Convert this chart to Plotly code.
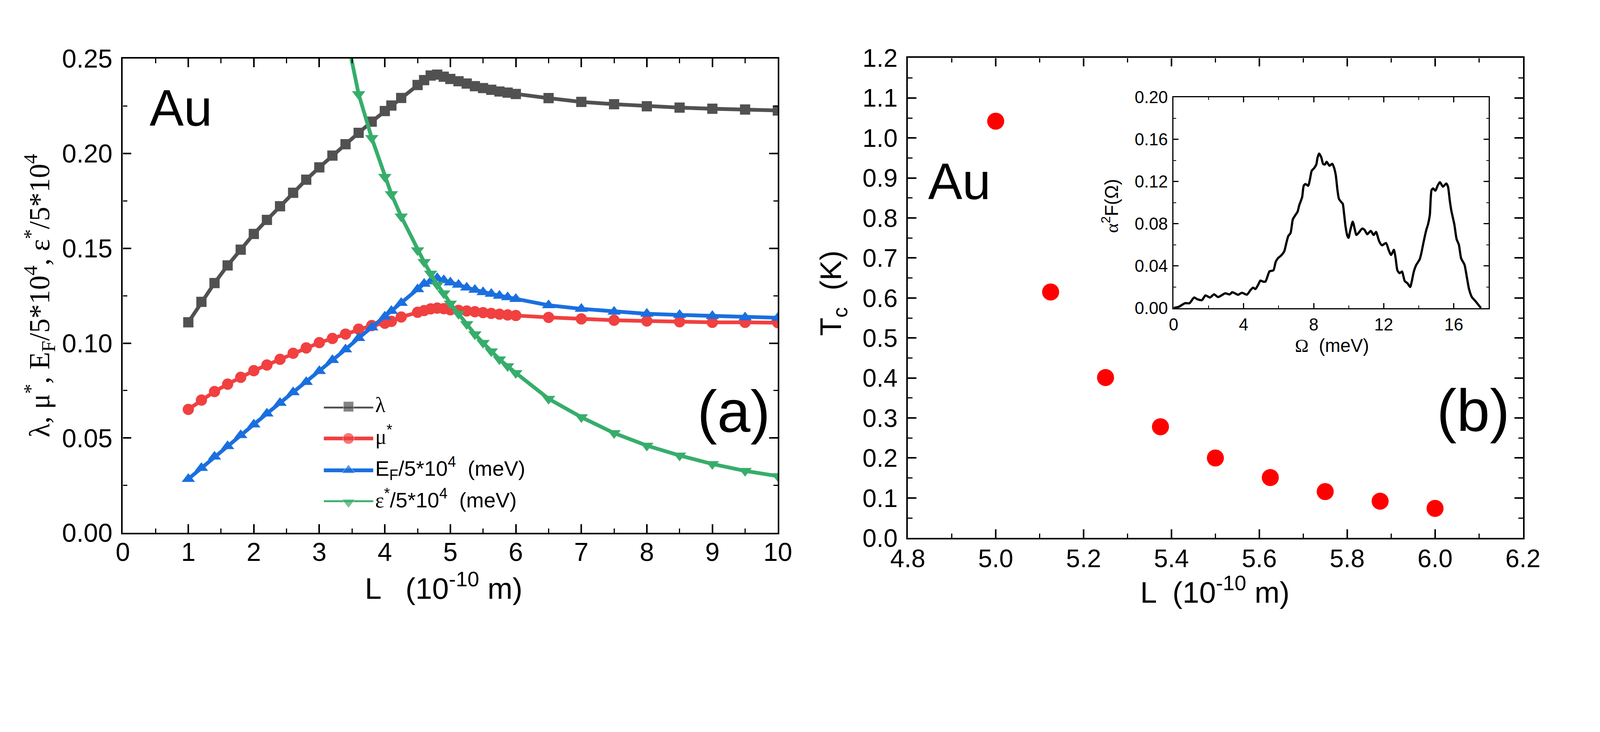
import plotly.graph_objects as go

# ---- panel (a): parameters vs L ----
L = [1.0, 1.2, 1.4, 1.6, 1.8, 2.0, 2.2, 2.4, 2.6, 2.8, 3.0, 3.2, 3.4, 3.6, 3.8,
     4.0, 4.1, 4.25, 4.5, 4.6, 4.7, 4.8, 4.9, 5.0, 5.125, 5.25, 5.375, 5.5,
     5.625, 5.75, 5.875, 6.0, 6.5, 7.0, 7.5, 8.0, 8.5, 9.0, 9.5, 10.0]
lam = [0.111, 0.1218, 0.1317, 0.141, 0.1493, 0.1576, 0.165, 0.1722, 0.1793, 0.1862,
       0.1927, 0.1989, 0.2049, 0.2109, 0.2168, 0.2224, 0.2253, 0.2293, 0.2361, 0.2387,
       0.2411, 0.2416, 0.2405, 0.2393, 0.2381, 0.2369, 0.2355, 0.2345, 0.2336, 0.2327,
       0.2321, 0.2314, 0.2292, 0.2272, 0.226, 0.2249, 0.2242, 0.2236, 0.2232, 0.2227]
mu = [0.0651, 0.070, 0.0745, 0.0784, 0.082, 0.0855, 0.0885, 0.0915, 0.0947, 0.0975,
      0.1003, 0.1025, 0.1048, 0.1074, 0.1093, 0.1105, 0.1115, 0.1138, 0.1163, 0.1172,
      0.1181, 0.1185, 0.1182, 0.1176, 0.1173, 0.117, 0.1166, 0.1161, 0.1157, 0.1153,
      0.1149, 0.1146, 0.1136, 0.1128, 0.1121, 0.1117, 0.1113, 0.111, 0.111, 0.1108]
ef = [0.0284, 0.0342, 0.0402, 0.0457, 0.0515, 0.0571, 0.0629, 0.0685, 0.0741, 0.0795,
      0.0853, 0.0911, 0.0967, 0.1027, 0.1083, 0.1140, 0.117, 0.1212, 0.1284, 0.1313,
      0.1326, 0.1343, 0.1332, 0.132, 0.1308, 0.1293, 0.1281, 0.1269, 0.126, 0.125,
      0.1242, 0.1233, 0.120, 0.1181, 0.1166, 0.1155, 0.1149, 0.1143, 0.1136, 0.1134]
# eps* only enters the frame near L = 3.5
L_eps = [3.4, 3.6, 3.8, 4.0, 4.1, 4.25, 4.5, 4.6, 4.7, 4.8, 4.9, 5.0, 5.125, 5.25,
         5.375, 5.5, 5.625, 5.75, 5.875, 6.0, 6.5, 7.0, 7.5, 8.0, 8.5, 9.0, 9.5, 10.0]
eps = [0.265, 0.2313, 0.2082, 0.1877, 0.1786, 0.1668, 0.149, 0.1428, 0.1367, 0.1308,
       0.1263, 0.1209, 0.1155, 0.1101, 0.1047, 0.1002, 0.0957, 0.0915, 0.0879, 0.0843,
       0.0707, 0.061, 0.0526, 0.046, 0.0408, 0.0363, 0.0327, 0.0299]

# ---- panel (b): Tc vs L ----
L_tc = [5.0, 5.125, 5.25, 5.375, 5.5, 5.625, 5.75, 5.875, 6.0]
tc = [1.042, 0.615, 0.401, 0.278, 0.200, 0.151, 0.116, 0.092, 0.074]

# ---- inset: Eliashberg function ----
omega = [0.0, 0.3, 0.65, 0.91, 1.17, 1.34, 1.62, 1.82, 2.08, 2.31, 2.54, 2.95, 3.2,
         3.35, 3.68, 3.9, 4.19, 4.39, 4.54, 4.67, 4.83, 4.96, 5.12, 5.25, 5.48, 5.7,
         5.83, 5.96, 6.12, 6.32, 6.45, 6.55, 6.68, 6.81, 6.94, 7.08, 7.17, 7.34, 7.43,
         7.53, 7.69, 7.79, 7.89, 8.02, 8.15, 8.22, 8.31, 8.44, 8.54, 8.64, 8.74, 8.9,
         9.06, 9.16, 9.26, 9.36, 9.44, 9.56, 9.66, 9.73, 9.82, 9.92, 9.99, 10.08, 10.23,
         10.34, 10.44, 10.57, 10.77, 10.9, 11.06, 11.26, 11.42, 11.56, 11.74, 11.9,
         12.13, 12.29, 12.42, 12.58, 12.68, 12.78, 12.91, 13.04, 13.2, 13.36, 13.51,
         13.59, 13.72, 13.85, 14.05, 14.14, 14.27, 14.43, 14.53, 14.63, 14.73, 14.82,
         14.95, 15.08, 15.21, 15.38, 15.57, 15.67, 15.77, 15.86, 16.03, 16.16, 16.29,
         16.42, 16.61, 16.74, 16.87, 17.03, 17.26, 17.55]
a2f = [0.0, 0.0012, 0.0046, 0.0046, 0.010, 0.0085, 0.0075, 0.012, 0.010, 0.013, 0.0104,
       0.014, 0.0129, 0.015, 0.0126, 0.0145, 0.0127, 0.017, 0.0194, 0.018, 0.0221,
       0.0261, 0.025, 0.0252, 0.0348, 0.0358, 0.0437, 0.0473, 0.0495, 0.0539, 0.0625,
       0.0683, 0.0712, 0.0842, 0.0878, 0.0914, 0.0972, 0.1052, 0.116, 0.1177, 0.116,
       0.1225, 0.1304, 0.1326, 0.1362, 0.1427, 0.1466, 0.1427, 0.1366, 0.1362, 0.1388,
       0.135, 0.1369, 0.1333, 0.1262, 0.1116, 0.1037, 0.1008, 0.0989, 0.0903, 0.0773,
       0.0687, 0.0666, 0.073, 0.0819, 0.0752, 0.0693, 0.0714, 0.0754, 0.0743, 0.070,
       0.0732, 0.0693, 0.0722, 0.0633, 0.0595, 0.0617, 0.0547, 0.0504, 0.0552, 0.0471,
       0.0358, 0.0331, 0.0347, 0.0256, 0.0234, 0.020, 0.0245, 0.0347, 0.0407, 0.0461,
       0.0515, 0.0622, 0.0741, 0.0795, 0.0881, 0.1119, 0.1135, 0.1113, 0.1162, 0.1194,
       0.1151, 0.1181, 0.1151, 0.1022, 0.0924, 0.0795, 0.0655, 0.0601, 0.0471, 0.0412,
       0.0299, 0.018, 0.0105, 0.0061, 0.0]

SANS = 'Liberation Sans, Arial, sans-serif'
SERIF = 'Liberation Serif, Times New Roman, serif'


def greek(ch):
    return f'<span style="font-family:{SERIF}">{ch}</span>'


series = [
    (greek('λ'), L, lam, '#515151', 'square', 30),
    (greek('μ') + '<sup>*</sup>', L, mu, '#F14040', 'circle', 33),
    ('E<sub>F</sub>/5*10<sup>4</sup>  (meV)', L, ef, '#1A6FDF', 'triangle-up', 34),
    (greek('ε') + '<sup>*</sup>/5*10<sup>4</sup>  (meV)', L_eps, eps, '#37AD6B', 'triangle-down', 34),
]

# the page is shown with a device scale of ~1.145 and an 8px body margin:
# sizes below are measured in reference pixels and converted here
DPR = 1.145
W, H = 4067, 1621


def s(v):
    return v / DPR


def fx(d):
    return (d / DPR - 8) / W


def fy(d):
    return 1 - (d / DPR - 8) / H


fig = go.Figure()

for name, xs, ys, col, sym, ms in series:
    fig.add_trace(go.Scatter(
        x=xs, y=ys, mode='lines+markers',
        line=dict(color=col, width=s(11)),
        marker=dict(symbol=sym, size=s(ms), color=col),
        xaxis='x', yaxis='y', showlegend=False
    ))

# hand-made legend (plotly caps legend symbol sizes); symbol spans 0..1, label sits right of it
for i, (name, xs, ys, col, sym, ms) in enumerate(series):
    fig.add_trace(go.Scatter(
        x=[0, 0.5, 1], y=[i, i, i], mode='lines+markers',
        line=dict(color=col, width=s(11)),
        marker=dict(symbol=sym, size=[0, s(ms), 0], color=col),
        cliponaxis=False, xaxis='x4', yaxis='y4', showlegend=False, hoverinfo='skip'
    ))
    fig.add_trace(go.Scatter(
        x=[1.04], y=[i], mode='text', text=[name], textposition='middle right',
        textfont=dict(family=SANS, size=s(62), color='black'),
        cliponaxis=False, xaxis='x4', yaxis='y4', showlegend=False, hoverinfo='skip'
    ))

fig.add_trace(go.Scatter(
    x=L_tc, y=tc, mode='markers',
    marker=dict(size=s(50), color='#FF0000'),
    xaxis='x2', yaxis='y2', showlegend=False
))

fig.add_trace(go.Scatter(
    x=omega, y=a2f, mode='lines',
    line=dict(color='black', width=s(6.5), shape='spline', smoothing=0.6),
    xaxis='x3', yaxis='y3', showlegend=False
))


def ax(domain, rng, dtick, minor, fmt=None, size=72, lw=5, tl=25, mtl=13, standoff=0):
    d = dict(domain=domain, range=rng, dtick=dtick, tick0=0, automargin=False,
             showline=True, linewidth=s(lw), linecolor='black', mirror='ticks',
             ticks='inside', ticklen=s(tl), tickwidth=s(lw), tickcolor='black',
             minor=dict(ticks='inside', dtick=minor, ticklen=s(mtl), tickwidth=s(lw - 1),
                        tickcolor='black'),
             showgrid=False, zeroline=False,
             tickfont=dict(family=SANS, size=s(size), color='black'),
             ticklabelstandoff=round(s(standoff)))
    if fmt:
        d['tickformat'] = fmt
    return d


xa = ax([fx(360), fx(2280)], [0, 10], 1, 0.5, size=76, standoff=-14)
ya = ax([fy(1562), fy(172)], [0, 0.25], 0.05, 0.025, '.2f', size=76, standoff=10)
xb = ax([fx(2661), fx(4464)], [4.8, 6.2], 0.2, 0.1, '.1f', size=74, standoff=-8)
xb['anchor'] = 'y2'
yb = ax([fy(1577), fy(170)], [0, 1.2], 0.1, 0.05, '.1f', size=74, standoff=10)
yb['anchor'] = 'x2'
xc = ax([fx(3440), fx(4364)], [0, 18], 4, 2, size=50, lw=3, tl=15, mtl=8, standoff=2)
xc['anchor'] = 'y3'
yc = ax([fy(903), fy(285)], [0, 0.2], 0.04, 0.02, '.2f', size=50, lw=3, tl=15, mtl=8, standoff=4)
yc['anchor'] = 'x3'

fig.update_layout(
    width=W, height=H,
    margin=dict(l=0, r=0, t=0, b=0, autoexpand=False),
    paper_bgcolor='white', plot_bgcolor='rgba(0,0,0,0)',
    xaxis=xa, yaxis=ya,
    xaxis2=xb, yaxis2=yb,
    xaxis3=xc, yaxis3=yc,
    xaxis4=dict(domain=[fx(949), fx(949 + 3 * 145)], range=[0, 3], visible=False, anchor='y4'),
    yaxis4=dict(domain=[fy(1472), fy(1192)], range=[3, 0], visible=False, anchor='x4'),
    showlegend=False,
)

# axis titles
titles = [
    ('L   (10<sup>-10</sup> m)', 1301, 1718, 0, SANS, 88),
    ('L  (10<sup>-10</sup> m)', 3561, 1730, 0, SANS, 88),
    ('λ, μ<sup>*</sup>, E<sub>F</sub>/5*10<sup>4</sup>, ε<sup>*</sup>/5*10<sup>4</sup>',
     115, 866, -90, SERIF, 84),
    ('T<sub>c</sub>  (K)', 2440, 860, -90, SANS, 88),
    (greek('Ω') + '  (meV)', 3905, 1013, 0, SANS, 54),
    (greek('α') + '<sup>2</sup>F(Ω)', 3254, 603, -90, SANS, 54),
]
for text, xd, yd, ang, fam, size in titles:
    fig.add_annotation(text=text, xref='paper', yref='paper', x=fx(xd), y=fy(yd),
                       xanchor='center', yanchor='middle', textangle=ang, showarrow=False,
                       font=dict(family=fam, size=s(size), color='black'))

big = dict(family=SANS, color='black')
fig.add_annotation(text='Au', xref='x domain', yref='y domain', x=0.040, y=0.896,
                   xanchor='left', yanchor='middle', showarrow=False, font=dict(size=s(150), **big))
fig.add_annotation(text='(a)', xref='x domain', yref='y domain', x=0.99, y=0.256,
                   xanchor='right', yanchor='middle', showarrow=False, font=dict(size=s(175), **big))
fig.add_annotation(text='Au', xref='x2 domain', yref='y2 domain', x=0.032, y=0.743,
                   xanchor='left', yanchor='middle', showarrow=False, font=dict(size=s(150), **big))
fig.add_annotation(text='(b)', xref='x2 domain', yref='y2 domain', x=0.98, y=0.266,
                   xanchor='right', yanchor='middle', showarrow=False, font=dict(size=s(175), **big))

fig.write_html('out.html')
